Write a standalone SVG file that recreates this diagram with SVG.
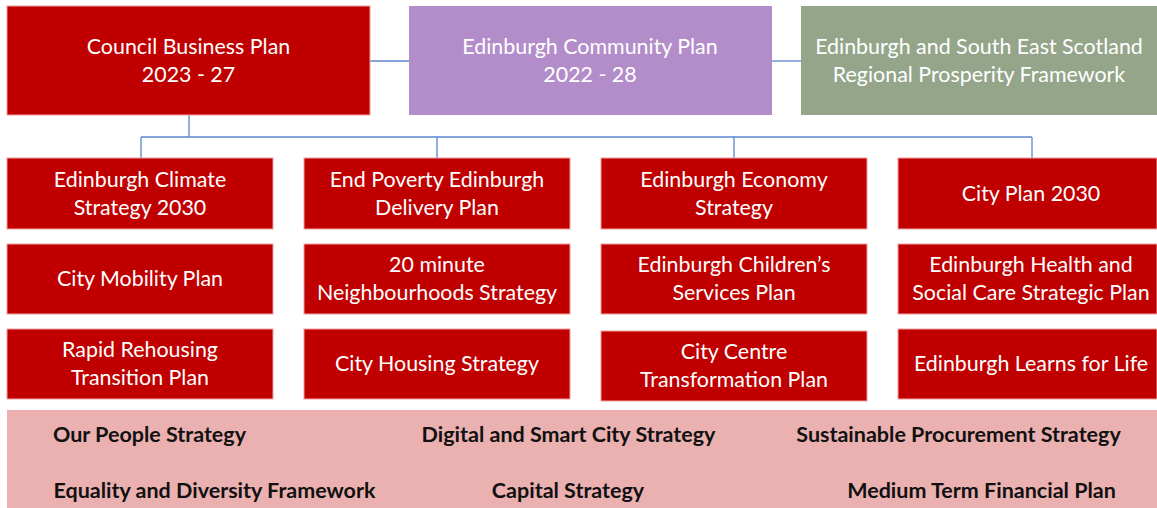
<svg xmlns="http://www.w3.org/2000/svg" width="1157" height="508" viewBox="0 0 1157 508">
<style>
.red{fill:#C00000;stroke:#F2A0A0;stroke-width:1}
.w{font-family:Lato,"Liberation Sans",sans-serif;font-size:21.4px;fill:#FFFFFF;text-anchor:middle}
.b{font-family:Lato,"Liberation Sans",sans-serif;font-size:21.5px;font-weight:bold;fill:#111111;text-anchor:middle}
.c{stroke:#5B86CF;stroke-width:1.3;fill:none}
</style>
<rect width="1157" height="508" fill="#FFFFFF"/>
<g id="connectors">
<line class="c" x1="370" y1="61" x2="409" y2="61"/>
<line class="c" x1="772" y1="61" x2="801" y2="61"/>
<line class="c" x1="189" y1="115" x2="189" y2="137"/>
<line class="c" x1="141" y1="137" x2="1032" y2="137"/>
<line class="c" x1="141" y1="137" x2="141" y2="158"/>
<line class="c" x1="437" y1="137" x2="437" y2="158"/>
<line class="c" x1="734" y1="137" x2="734" y2="158"/>
<line class="c" x1="1032" y1="137" x2="1032" y2="158"/>
</g>
<g id="council">
<rect class="red" x="7" y="6" width="363" height="109"/>
<text class="w" x="188.5" y="54">Council Business Plan</text>
<text class="w" x="188.5" y="82">2023 - 27</text>
</g>
<g id="community">
<rect x="409" y="6" width="363" height="109" fill="#B38DCA"/>
<text class="w" x="590" y="54" fill="#F4EEF8">Edinburgh Community Plan</text>
<text class="w" x="590" y="82">2022 - 28</text>
</g>
<g id="regional">
<rect x="801" y="6" width="356" height="109" fill="#94A58A"/>
<text class="w" x="979" y="54">Edinburgh and South East Scotland</text>
<text class="w" x="979" y="82">Regional Prosperity Framework</text>
</g>
<g id="climate">
<rect class="red" x="7" y="158" width="266" height="71"/>
<text class="w" x="140" y="187">Edinburgh Climate</text>
<text class="w" x="140" y="215">Strategy 2030</text>
</g>
<g id="poverty">
<rect class="red" x="304" y="158" width="266" height="71"/>
<text class="w" x="437" y="187">End Poverty Edinburgh</text>
<text class="w" x="437" y="215">Delivery Plan</text>
</g>
<g id="economy">
<rect class="red" x="601" y="158" width="266" height="71"/>
<text class="w" x="734" y="187">Edinburgh Economy</text>
<text class="w" x="734" y="215">Strategy</text>
</g>
<g id="cityplan">
<rect class="red" x="898" y="158" width="259" height="71"/>
<text class="w" x="1031" y="201">City Plan 2030</text>
</g>
<g id="mobility">
<rect class="red" x="7" y="244" width="266" height="70"/>
<text class="w" x="140" y="286">City Mobility Plan</text>
</g>
<g id="neighbourhoods">
<rect class="red" x="304" y="244" width="266" height="70"/>
<text class="w" x="437" y="272">20 minute</text>
<text class="w" x="437" y="300">Neighbourhoods Strategy</text>
</g>
<g id="children">
<rect class="red" x="601" y="244" width="266" height="70"/>
<text class="w" x="734" y="272">Edinburgh Children’s</text>
<text class="w" x="734" y="300">Services Plan</text>
</g>
<g id="health">
<rect class="red" x="898" y="244" width="259" height="70"/>
<text class="w" x="1031" y="272">Edinburgh Health and</text>
<text class="w" x="1031" y="300">Social Care Strategic Plan</text>
</g>
<g id="rehousing">
<rect class="red" x="7" y="329" width="266" height="70"/>
<text class="w" x="140" y="357">Rapid Rehousing</text>
<text class="w" x="140" y="385">Transition Plan</text>
</g>
<g id="housing">
<rect class="red" x="304" y="329" width="266" height="70"/>
<text class="w" x="437" y="371">City Housing Strategy</text>
</g>
<g id="centre">
<rect class="red" x="601" y="331" width="266" height="70"/>
<text class="w" x="734" y="359">City Centre</text>
<text class="w" x="734" y="387">Transformation Plan</text>
</g>
<g id="learns">
<rect class="red" x="898" y="329" width="259" height="70"/>
<text class="w" x="1031" y="371">Edinburgh Learns for Life</text>
</g>
<g id="supporting">
<rect x="7" y="410" width="1150" height="98" fill="#EBB0B0"/>
<text class="b" x="149.5" y="442">Our People Strategy</text>
<text class="b" x="568.5" y="442">Digital and Smart City Strategy</text>
<text class="b" x="958.5" y="442">Sustainable Procurement Strategy</text>
<text class="b" x="214.5" y="498">Equality and Diversity Framework</text>
<text class="b" x="568" y="498">Capital Strategy</text>
<text class="b" x="981.5" y="498">Medium Term Financial Plan</text>
</g>
</svg>
